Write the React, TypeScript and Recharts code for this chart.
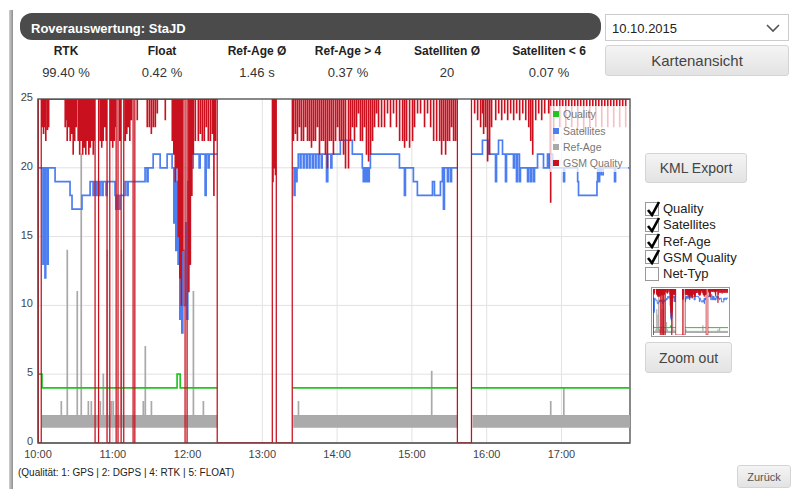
import React from 'react';
import { ComposedChart, Line, Area, XAxis, YAxis, CartesianGrid, ReferenceArea, Legend } from 'recharts';

const FONT = 'Arial, "Liberation Sans", Helvetica, sans-serif';

// time axis in minutes after 10:00
const timeTicks = [0, 60, 120, 180, 240, 300, 360, 420];
const timeLabels = ['10:00', '11:00', '12:00', '13:00', '14:00', '15:00', '16:00', '17:00'];
const valueTicks = [0, 5, 10, 15, 20, 25];

const statLabels = ['RTK', 'Float', 'Ref-Age Ø', 'Ref-Age > 4', 'Satelliten Ø', 'Satelliten < 6'];
const statValues = ['99.40 %', '0.42 %', '1.46 s', '0.37 %', '20', '0.07 %'];

const seriesNames = ['Quality', 'Satellites', 'Ref-Age', 'GSM Quality'];
const seriesColors = ['#22c322', '#4b7ef0', '#a9a9a9', '#c8101e'];

const optionLabels = ['Quality', 'Satellites', 'Ref-Age', 'GSM Quality', 'Net-Typ'];
const optionChecked = [true, true, true, true, false];

// Qualität (4 = RTK, 5 = FLOAT), null = keine Daten
const quality: [number, number | null][] = [
  [0, 5], [3.2, 4], [111.6, 5], [114.1, 4], [143.8, 4], [143.9, null],
  [204, 4], [336.5, 4], [336.6, null],
  [347.8, 4], [475, 4],
];

const satellites: [number, number | null][] = [
  [0, 20], [4, 13], [4.6, 20], [5.6, 12], [6.2, 20], [7.6, 13], [8.2, 20], [13.7, 19], [25.7, 18], [27.3, 17],
  [35.3, 18], [41.8, 19], [44.2, 18], [45, 19], [46.6, 18], [47.4, 19], [49, 18], [49.8, 19], [51.4, 18], [52.2, 19],
  [54.6, 18], [55.4, 19], [61.8, 18], [62.4, 17], [63.5, 18], [65, 17], [65.8, 18], [69.9, 19], [71.5, 18], [72.3, 19],
  [85.9, 20], [87.5, 19], [88.3, 20], [92.4, 21], [98, 20], [103.6, 21], [107.6, 20], [109, 16], [109.8, 20], [110.6, 14],
  [111.4, 19], [112.4, 13], [113, 18], [113.8, 9], [114.6, 15], [115.4, 8], [116.2, 14], [117, 10], [118.6, 16], [119.4, 9],
  [120.2, 19], [121.3, 13], [122.1, 20], [124.5, 21], [129.3, 20], [130.1, 21], [134.1, 18], [134.9, 21], [136.5, 20], [137.3, 21],
  [143.8, 21], [143.9, null],
  [204, 20], [205.5, 18], [206.2, 20], [207, 19], [207.8, 20], [208.8, 21], [210.4, 20], [211, 21], [212.9, 20], [213.5, 21],
  [215.3, 20], [216, 21], [217.7, 20], [218.3, 21], [220.1, 20], [220.8, 21], [222.5, 20], [223.1, 21], [224.9, 20], [225.5, 21],
  [227.3, 20], [228, 21], [231.5, 19], [232.5, 21], [235, 20], [235.8, 21], [242.6, 22], [252.2, 21], [260.2, 20], [261, 19],
  [261.8, 20], [263, 19], [263.8, 20], [265, 19], [265.8, 20], [266.7, 21], [290, 20], [294, 18], [294.8, 20], [301.2, 19],
  [304.4, 18], [316.5, 19], [318.1, 18], [322.9, 19], [324.5, 20], [325.3, 17], [326.1, 20], [328.5, 19], [329.3, 20], [331, 19],
  [331.8, 20], [336.5, 20], [336.6, null],
  [347.8, 21], [356.6, 22], [361.4, 21], [367.1, 19], [367.9, 21], [369.5, 22], [372.7, 21], [375.1, 19], [375.9, 21], [381.5, 20],
  [382.3, 21], [383.9, 19], [384.7, 21], [386.3, 19], [387.1, 20], [392.8, 19], [393.6, 20], [395.2, 19], [396, 20], [397.6, 19],
  [398.4, 20], [400.8, 21], [405.6, 20], [408.8, 21], [409.6, 20], [410.4, 21], [413, 20], [421.7, 19], [422.5, 20], [433, 19],
  [433.7, 18], [448.5, 19], [449, 20], [450, 19], [450.6, 20], [452, 19.5], [453.5, 20], [462.6, 19], [463.4, 20], [475, 20],
];

// Ref-Age: pendelt dicht zwischen diesen Werten, dazu einzelne Spitzen
const refAgeRange: [number, number] = [1.1, 2];
const refAgeSegments: [number, number][] = [[3.2, 143.8], [204.8, 336.5], [348.6, 475]];
const refAgeSpikes: [number, number][] = [
  [18.5, 3], [23.3, 14], [31.3, 11], [34.5, 21], [40.2, 3], [42.6, 3], [49.8, 3], [52.2, 5], [55.4, 14], [58.6, 3],
  [60.2, 3], [66.7, 14], [84.3, 3], [85.9, 7], [90.8, 3], [124.5, 11], [132.5, 3],
  [208.8, 3], [315.7, 5.2],
  [411.2, 3], [421.7, 4],
];

// GSM Quality: Grundwert 25, kurze Einbrüche und Ausfälle auf 0
const gsmDips: [number, number][] = [
  [3.4, 23], [4.3, 22.5], [5.2, 23], [6.1, 22], [7.5, 22.8], [8.4, 23],
  [21.7, 23], [22.5, 23.5], [23.3, 22], [24.5, 23], [25.7, 22], [26.9, 22.5], [28.1, 21], [29.3, 22], [30.5, 23], [32.1, 22],
  [33.3, 21], [34.5, 22], [35.7, 21], [36.9, 21.5], [38.2, 21], [39.4, 22], [40.6, 21], [41.8, 21.5], [43, 22], [44.2, 21],
  [45, 22], [49.8, 22], [51, 21.5], [52.2, 22], [53.4, 23], [54.6, 22], [58.6, 22], [59.8, 21.5], [61, 22], [62, 23],
  [65.5, 22], [69.9, 22], [71.1, 22.5], [72.3, 23], [73.5, 22], [74.7, 23.5], [79.5, 23.5], [87.5, 23], [89.2, 23], [90.8, 22.5],
  [92.4, 23], [94, 23], [95.6, 24], [102, 23.5], [107.6, 22], [108.8, 21], [110, 19], [111.2, 20], [112.4, 15], [113.7, 12],
  [114.9, 10], [116.1, 14], [120.9, 11], [122.1, 13], [123.3, 18], [124.5, 21], [126.1, 22], [128.5, 22], [130.1, 22.5], [131.7, 22],
  [133.3, 22], [134.9, 23], [136.5, 22], [138.2, 22], [139.8, 22.5], [141, 18], [142.2, 22],
  [188.4, 19], [189.4, 20], [190.4, 19.5],
  [204.8, 22], [206.4, 22.5], [208, 22], [209.6, 23], [211.2, 22], [212.9, 22], [214.5, 23], [216.1, 22], [217.7, 22], [219.3, 21.5],
  [220.9, 22], [222.5, 22], [224.1, 23], [225.7, 21], [227.3, 22], [228.9, 22], [230.5, 21], [232.1, 20], [233.7, 22], [235.3, 22],
  [236.9, 21], [238.6, 22], [240.2, 23], [241.8, 22], [243.4, 22], [245, 21], [246.6, 20], [249, 20], [250.6, 22], [252.2, 23],
  [253.8, 22], [255.4, 23], [257, 24], [258.6, 22], [260.2, 22], [261.8, 23], [263.4, 21], [265.1, 20.5], [266.7, 21], [268.3, 22],
  [269.9, 23], [271.5, 24], [273.1, 23], [275.5, 23], [277.9, 23], [280.3, 24], [282.7, 23], [285.1, 24], [287.5, 23], [290, 22],
  [292.4, 22], [294, 21.5], [295.6, 22], [298, 21.5], [300.4, 22], [302, 23], [304.4, 24], [306.8, 24], [310, 23], [312.4, 24],
  [314.9, 23], [317.3, 22], [319.7, 22], [322.1, 22], [323.7, 21], [325.3, 22], [326.9, 21], [328.5, 22], [330.1, 22], [331.7, 23],
  [333.3, 22], [334.9, 22],
  [350.2, 24], [352.6, 23.5], [355, 23], [356.6, 24], [357.4, 22.5], [359, 23], [360.6, 20.5], [362.2, 21], [363.8, 23], [367.1, 23.5],
  [369.5, 24], [371.9, 23.5], [374.3, 24], [376.7, 23.5], [379.1, 24], [381.5, 23.5], [383.9, 24], [386.3, 23.5], [388.8, 24], [391.2, 23.5],
  [393.6, 23], [395.2, 22], [396.8, 21], [399.2, 23.5], [401.6, 24], [404, 23.5], [406.4, 24], [409.6, 24], [411.2, 17.5], [413.6, 22],
  [416.1, 24.5], [418.5, 23], [420.9, 24.5], [423.3, 23], [425.7, 24.5], [428.1, 23], [430.5, 24.5], [432.9, 23], [435.3, 24.5], [437.7, 22.5],
  [440.1, 24.5], [442.6, 23], [445, 24.5], [447.4, 23], [449.8, 24.5], [452.2, 23], [454.6, 24.5], [457, 23], [459.4, 24.5], [461.8, 23],
  [464.2, 24.5], [466.6, 23], [469, 24.5], [471.4, 23],
];
const gsmDropouts: [number, number][] = [
  [0.3, 2.6], [45.8, 48.6], [55.4, 57.6], [62.7, 64.2], [66.7, 68.8], [76.3, 77.7], [118, 119.6],
  [143.8, 188], [191.2, 204], [336.5, 347.8],
];

const DOMAIN_END = 475;

const byTime = (a: { t: number }, b: { t: number }) => a.t - b.t;

const qualityData = quality.map(([t, v]) => ({ t, v }));
const satelliteData = satellites.map(([t, v]) => ({ t, v }));

const bandData = refAgeSegments.flatMap(([a, b]) => [
  { t: a, v: refAgeRange },
  { t: b, v: refAgeRange },
  { t: b + 0.1, v: null },
]);

const refAgeData = refAgeSegments.flatMap(([a, b]) => {
  const pts: { t: number; v: number | null }[] = [{ t: a, v: refAgeRange[1] }];
  refAgeSpikes
    .filter(([t]) => t > a && t < b)
    .forEach(([t, v]) => {
      pts.push({ t, v });
      pts.push({ t: t + 0.4, v: refAgeRange[1] });
    });
  pts.push({ t: b, v: refAgeRange[1] });
  pts.push({ t: b + 0.1, v: null });
  return pts;
});

const gsmData = [
  { t: 0, v: 25 },
  ...gsmDips.flatMap(([t, v]) => [{ t, v }, { t: t + 0.3, v: 25 }]),
  ...gsmDropouts.flatMap(([a, b]) => [{ t: a, v: 0 }, { t: b, v: 25 }]),
  { t: DOMAIN_END, v: 25 },
].sort(byTime);

function ChartSeries({ w }: { w: number }) {
  return (
    <>
      <Area
        data={bandData}
        dataKey="v"
        type="linear"
        stroke="none"
        fill="#ababab"
        fillOpacity={1}
        isAnimationActive={false}
        connectNulls={false}
        name={seriesNames[2]}
        legendType="none"
      />
      <Line data={refAgeData} dataKey="v" type="stepAfter" stroke={seriesColors[2]} strokeWidth={w} dot={false} isAnimationActive={false} name={seriesNames[2]} />
      <Line data={qualityData} dataKey="v" type="stepAfter" stroke={seriesColors[0]} strokeWidth={w * 1.4} dot={false} isAnimationActive={false} name={seriesNames[0]} />
      <Line data={satelliteData} dataKey="v" type="stepAfter" stroke={seriesColors[1]} strokeWidth={w * 1.4} dot={false} isAnimationActive={false} name={seriesNames[1]} />
      <Line data={gsmData} dataKey="v" type="stepAfter" stroke={seriesColors[3]} strokeWidth={w * 1.05} dot={false} isAnimationActive={false} name={seriesNames[3]} />
    </>
  );
}

const legendBox = () => (
  <div style={{ background: 'rgba(255,255,255,0.75)', width: 78, fontFamily: FONT, fontSize: 10.5, color: '#777' }}>
    {seriesNames.map((name, i) => (
      <div key={name} style={{ height: 16.4, display: 'flex', alignItems: 'center' }}>
        <span style={{ width: 6, height: 6, background: seriesColors[i], marginLeft: 3, marginRight: 4, display: 'inline-block' }} />
        {name}
      </div>
    ))}
  </div>
);

const ValueTick = ({ x, y, payload }: any) => (
  <text x={x} y={y - 2} textAnchor="end" dominantBaseline="central" fontSize={11} fill="#444" fontFamily={FONT}>
    {payload.value}
  </text>
);

const btn: React.CSSProperties = {
  position: 'absolute',
  background: 'linear-gradient(#f4f4f4, #e3e3e3)',
  border: '1px solid #d4d4d4',
  borderRadius: 3,
  color: '#444',
  display: 'flex',
  alignItems: 'center',
  justifyContent: 'center',
  boxSizing: 'border-box',
};

const statCenters = [66, 162, 257, 348, 447, 549];

export default function App() {
  return (
    <div style={{ position: 'absolute', left: 0, top: 0, width: 793, height: 489, background: '#fff', fontFamily: FONT, overflow: 'hidden' }}>
      <div style={{ position: 'absolute', left: 9, top: 10, width: 4, height: 479, background: 'linear-gradient(to right, #d0d0d0, #8f8f8f)' }} />

      <div style={{ position: 'absolute', left: 20, top: 13, width: 581, height: 27, background: '#4b4b4b', borderRadius: 12 }}>
        <div style={{ position: 'absolute', left: 11, top: 9, fontSize: 13, fontWeight: 'bold', color: '#fff', lineHeight: 1 }}>
          Roverauswertung: StaJD
        </div>
      </div>

      {statLabels.map((label, i) => (
        <React.Fragment key={label}>
          <div style={{ position: 'absolute', left: statCenters[i] - 50, width: 100, top: 45, textAlign: 'center', fontSize: 12, fontWeight: 'bold', color: '#222', lineHeight: 1 }}>
            {label}
          </div>
          <div style={{ position: 'absolute', left: statCenters[i] - 50, width: 100, top: 66, textAlign: 'center', fontSize: 13, color: '#333', lineHeight: 1 }}>
            {statValues[i]}
          </div>
        </React.Fragment>
      ))}

      <div style={{ position: 'absolute', left: 605, top: 14, width: 184, height: 27, border: '1px solid #ccc', boxSizing: 'border-box', background: '#fff' }}>
        <div style={{ position: 'absolute', left: 6, top: 7, fontSize: 13, color: '#222', lineHeight: 1 }}>10.10.2015</div>
        <svg style={{ position: 'absolute', left: 160, top: 8 }} width={14} height={10}>
          <polyline points="1,2 7,8 13,2" fill="none" stroke="#555" strokeWidth={1.6} />
        </svg>
      </div>
      <div style={{ ...btn, left: 605, top: 45, width: 184, height: 31, fontSize: 15 }}>Kartenansicht</div>

      <div style={{ ...btn, left: 645, top: 153, width: 102, height: 30, fontSize: 14 }}>KML Export</div>

      {optionLabels.map((label, i) => (
        <div key={label} style={{ position: 'absolute', left: 645, top: 201 + i * 16.3, height: 15, display: 'flex', alignItems: 'center' }}>
          <div style={{ width: 14, height: 14, border: '1px solid #999', boxSizing: 'border-box', background: '#fff', position: 'relative' }}>
            {optionChecked[i] && (
              <svg style={{ position: 'absolute', left: 0, top: -3 }} width={15} height={17}>
                <path d="M2,10 L6,15 L13,2" fill="none" stroke="#000" strokeWidth={2.6} />
              </svg>
            )}
          </div>
          <span style={{ marginLeft: 4, fontSize: 13, color: '#222' }}>{label}</span>
        </div>
      ))}

      <div style={{ position: 'absolute', left: 651, top: 287, width: 79, height: 50, border: '1px solid #999', boxSizing: 'border-box', background: '#fff' }}>
        <ComposedChart width={77} height={48} margin={{ top: 1, right: 1, bottom: 1, left: 1 }}>
          <XAxis dataKey="t" type="number" domain={[0, DOMAIN_END]} hide allowDataOverflow />
          <YAxis type="number" domain={[0, 25]} hide allowDataOverflow />
          {ChartSeries({ w: 0.7 })}
        </ComposedChart>
      </div>

      <div style={{ ...btn, left: 645, top: 342, width: 87, height: 31, fontSize: 14 }}>Zoom out</div>

      <div style={{ ...btn, left: 737, top: 465, width: 54, height: 23, fontSize: 11, color: '#555' }}>Zurück</div>

      <div style={{ position: 'absolute', left: 18, top: 468, fontSize: 10, color: '#222', lineHeight: 1 }}>
        (Qualität: 1: GPS | 2: DGPS | 4: RTK | 5: FLOAT)
      </div>

      <div style={{ position: 'absolute', left: 0, top: 90 }}>
        <ComposedChart width={640} height={380} margin={{ top: 9, right: 10, bottom: 5, left: 0 }}>
          <CartesianGrid stroke="#e2e2e2" />
          <XAxis
            dataKey="t"
            type="number"
            domain={[0, DOMAIN_END]}
            ticks={timeTicks}
            tickFormatter={(v: number) => timeLabels[timeTicks.indexOf(v)]}
            allowDataOverflow
            height={22}
            tickLine={false}
            tickSize={4}
            tickMargin={3}
            axisLine={{ stroke: '#555' }}
            tick={{ fontSize: 11, fill: '#444', fontFamily: FONT }}
          />
          <YAxis
            type="number"
            domain={[0, 25]}
            ticks={valueTicks}
            allowDataOverflow
            width={38}
            tickLine={false}
            tickSize={3}
            tickMargin={2}
            axisLine={{ stroke: '#555' }}
            tick={<ValueTick />}
          />
          <ReferenceArea x1={0} x2={DOMAIN_END} y1={0} y2={25} fill="none" stroke="#666" strokeWidth={1.5} />
          {ChartSeries({ w: 1.2 })}
          <Legend layout="vertical" align="center" verticalAlign="middle" wrapperStyle={{ left: 550, top: 16, width: 78 }} content={legendBox} />
        </ComposedChart>
      </div>
    </div>
  );
}
